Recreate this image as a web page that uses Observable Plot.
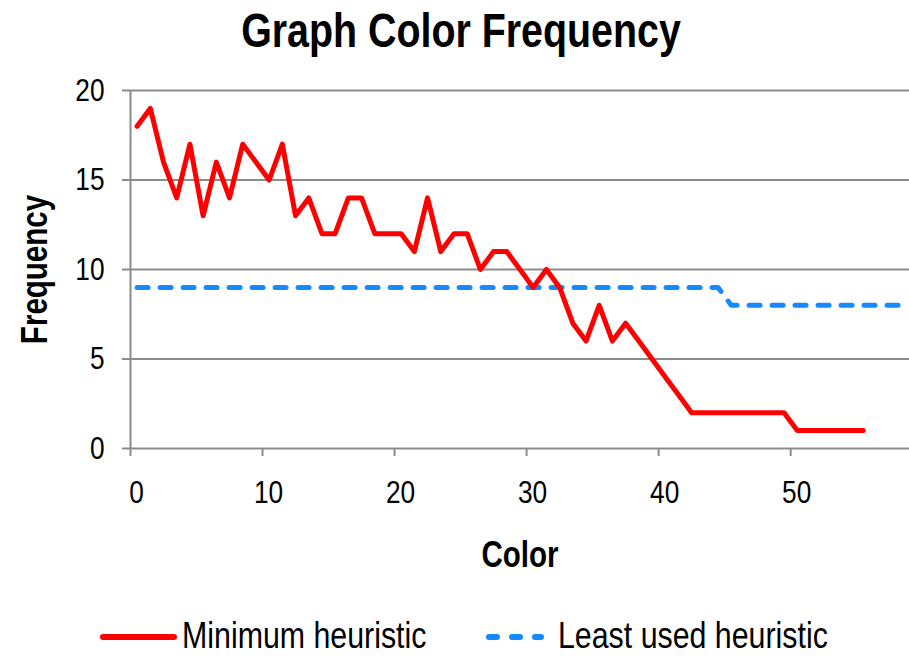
<!DOCTYPE html>
<html>
<head>
<meta charset="utf-8">
<script src="https://cdn.jsdelivr.net/npm/d3@7"></script>
<script src="https://cdn.jsdelivr.net/npm/@observablehq/plot@0.6"></script>
<style>
  body { margin: 0; background: #fff; }
  #wrap { width: 909px; height: 656px; overflow: hidden; font-family: "Liberation Sans", Arial, sans-serif; }
  svg { display: block; }
</style>
</head>
<body>
<div id="wrap">
  <div id="title"></div>
  <div id="chart"></div>
  <div id="legend"></div>
</div>
<script>
// Color index (category) 1..59; each point sits in the middle of its slot
const colorIndex = d3.range(1, 60);
const minimumHeuristic = [18,19,16,14,17,13,16,14,17,16,15,17,13,14,12,12,14,14,12,12,12,11,14,11,12,12,10,11,11,10,9,10,9,7,6,8,6,7,6,5,4,3,2,2,2,2,2,2,2,2,1,1,1,1,1,1];
const leastUsedHeuristic = [9,9,9,9,9,9,9,9,9,9,9,9,9,9,9,9,9,9,9,9,9,9,9,9,9,9,9,9,9,9,9,9,9,9,9,9,9,9,9,9,9,9,9,9,9,8,8,8,8,8,8,8,8,8,8,8,8,8,8];
const xTicks = [0, 10, 20, 30, 40, 50];
const yTicks = [0, 5, 10, 15, 20];
const titleText = "Graph Color Frequency";
const seriesNames = ["Minimum heuristic", "Least used heuristic"];
const seriesColors = ["#ff0000", "#1589ff"];

const minData = minimumHeuristic.map((v, i) => ({color: colorIndex[i], freq: v}));
const leastData = leastUsedHeuristic.map((v, i) => ({color: colorIndex[i], freq: v}));

const font = '"Liberation Sans", Arial, sans-serif';
const grey = "#8c8c8c";
const NARROW = 0.82; // emulate Arial Narrow by condensing Liberation Sans

function condense(root) {
  root.querySelectorAll("text").forEach(t => {
    const spans = t.querySelectorAll("tspan");
    const targets = spans.length ? Array.from(spans) : [t];
    targets.forEach(el => {
      const len = el.getComputedTextLength();
      if (len > 0) {
        el.setAttribute("textLength", (len * NARROW).toFixed(2));
        el.setAttribute("lengthAdjust", "spacingAndGlyphs");
      }
    });
  });
}

// Title (above the chart)
const titleSvg = d3.create("svg").attr("width", 909).attr("height", 62);
titleSvg.append("text").attr("x", 461).attr("y", 47).attr("text-anchor", "middle")
  .attr("font-family", font).attr("font-size", 48).attr("font-weight", "bold").text(titleText);
document.getElementById("title").append(titleSvg.node());
condense(titleSvg.node());

const chart = Plot.plot({
  width: 909,
  height: 534,
  marginTop: 28,
  marginBottom: 148,
  marginLeft: 130,
  marginRight: 0,
  style: {fontFamily: font, fontSize: "32px", color: "black", background: "white"},
  x: {domain: [0, 59]},
  y: {domain: [0, 20]},
  marks: [
    Plot.ruleY(yTicks, {stroke: grey, strokeWidth: 2}),
    Plot.ruleX([0], {y1: 0, y2: 20, stroke: grey, strokeWidth: 2}),
    Plot.axisY({ticks: yTicks, tickSize: 8, tickPadding: 18, stroke: grey, strokeWidth: 2, fill: "black", label: null, fontSize: 32}),
    // tick marks
    Plot.axisX({ticks: xTicks, tickSize: 8, stroke: grey, strokeWidth: 2, label: null, tickFormat: () => ""}),
    // tick labels (slightly right of their ticks, as in the original)
    Plot.axisX({ticks: xTicks, tickSize: 0, tickPadding: 32, fill: "black", label: null, fontSize: 32, dx: 6}),
    Plot.lineY(leastData, {x: d => d.color - 0.5, y: "freq", stroke: seriesColors[1], strokeWidth: 5,
      strokeDasharray: "11,12", strokeLinecap: "round", strokeLinejoin: "round"}),
    Plot.lineY(minData, {x: d => d.color - 0.5, y: "freq", stroke: seriesColors[0], strokeWidth: 5,
      strokeLinecap: "round", strokeLinejoin: "round"}),
    Plot.text(["Color"], {frameAnchor: "bottom", dy: 107, fontSize: 36, fontWeight: "bold", lineAnchor: "middle"}),
    Plot.text(["Frequency"], {frameAnchor: "left", dx: -95, rotate: -90, fontSize: 36, fontWeight: "bold", lineAnchor: "middle", textAnchor: "middle"})
  ]
});
document.getElementById("chart").append(chart);
condense(chart);

// Legend (below the chart)
const legendSvg = d3.create("svg").attr("width", 909).attr("height", 60);
const items = [
  {x1: 103, x2: 174, tx: 182, dash: null},
  {x1: 489, x2: 541, tx: 558, dash: "8,15"}
];
items.forEach((it, i) => {
  legendSvg.append("line").attr("x1", it.x1).attr("x2", it.x2).attr("y1", 41).attr("y2", 41)
    .attr("stroke", seriesColors[i]).attr("stroke-width", 6).attr("stroke-linecap", "round")
    .attr("stroke-dasharray", it.dash);
  legendSvg.append("text").attr("x", it.tx).attr("y", 52).attr("font-family", font)
    .attr("font-size", 37).text(seriesNames[i]);
});
document.getElementById("legend").append(legendSvg.node());
condense(legendSvg.node());
</script>
</body>
</html>
